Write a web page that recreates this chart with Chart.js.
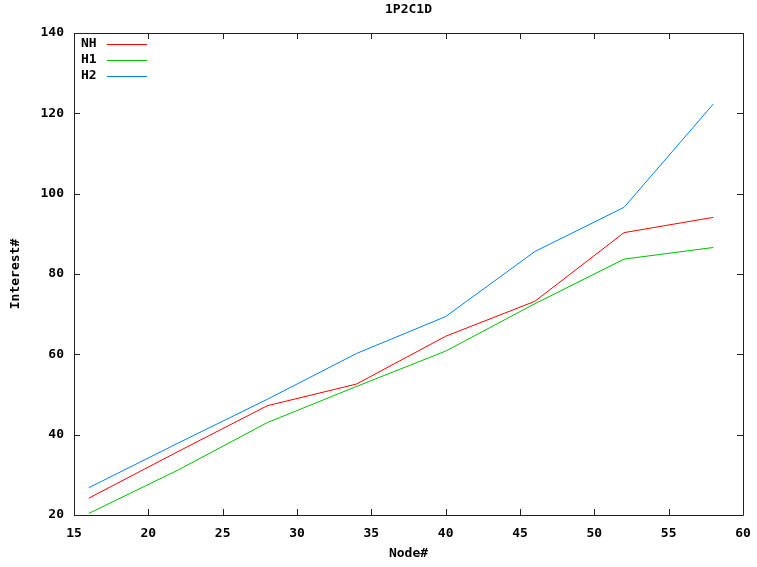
<!DOCTYPE html>
<html>
<head>
<meta charset="utf-8">
<script src="https://cdn.jsdelivr.net/npm/chart.js@4"></script>
<style>
html,body{margin:0;padding:0;background:#fff;}
#wrap{width:757px;height:567px;position:relative;}
</style>
</head>
<body>
<div id="wrap"><canvas id="c" width="757" height="567"></canvas></div>
<script>
const chartTitle = "1P2C1D";
const xTitle = "Node#";
const yTitle = "Interest#";
const nodes = [16, 22, 28, 34, 40, 46, 52, 58];
const seriesNames = ["NH", "H1", "H2"];
const nhValues = [24.2, 35.8, 47.2, 52.6, 64.5, 73.2, 90.3, 94.1];
const h1Values = [20.4, 31.2, 43.0, 52.0, 60.8, 72.6, 83.7, 86.6];
const h2Values = [26.8, 37.9, 48.8, 60.2, 69.4, 85.6, 96.6, 122.3];
const seriesColors = ["#ff0000", "#00c000", "#0080ff"];
const xTicks = [15, 20, 25, 30, 35, 40, 45, 50, 55, 60];
const yTicks = [20, 40, 60, 80, 100, 120, 140];

const FAMILY = "'DejaVu Sans Mono', 'Liberation Mono', monospace";
const FONT = "bold 13px " + FAMILY;

function toPts(vals){ return nodes.map((x,i)=>({x:x, y:vals[i]})); }
const allValues = [nhValues, h1Values, h2Values];

const framePlugin = {
  id: 'frame',
  afterDraw(chart){
    const {ctx, chartArea:a, scales} = chart;
    ctx.save();
    ctx.strokeStyle = '#222';
    ctx.lineWidth = 1;
    ctx.beginPath();
    ctx.rect(Math.round(a.left)+0.5, Math.round(a.top)+0.5, Math.round(a.right-a.left), Math.round(a.bottom-a.top));
    ctx.stroke();
    const tl = 6;
    ctx.beginPath();
    xTicks.forEach(v=>{
      const px = Math.round(scales.x.getPixelForValue(v))+0.5;
      ctx.moveTo(px, a.bottom); ctx.lineTo(px, a.bottom - tl);
      ctx.moveTo(px, a.top); ctx.lineTo(px, a.top + tl);
    });
    yTicks.forEach(v=>{
      const py = Math.round(scales.y.getPixelForValue(v))+0.5;
      ctx.moveTo(a.left, py); ctx.lineTo(a.left + tl, py);
      ctx.moveTo(a.right, py); ctx.lineTo(a.right - tl, py);
    });
    ctx.stroke();
    // titles
    ctx.fillStyle = '#000';
    ctx.font = FONT;
    ctx.textAlign = 'center';
    ctx.textBaseline = 'middle';
    ctx.fillText(chartTitle, (a.left+a.right)/2, 10);
    ctx.fillText(xTitle, (a.left+a.right)/2, 554);
    ctx.save();
    ctx.translate(16, (a.top+a.bottom)/2);
    ctx.rotate(-Math.PI/2);
    ctx.fillText(yTitle, 0, 0);
    ctx.restore();
    // legend
    ctx.textAlign = 'left';
    chart.data.datasets.forEach((ds,i)=>{
      const y = 44 + i*16;
      ctx.fillStyle = '#000';
      ctx.fillText(ds.label, 81, y);
      ctx.strokeStyle = ds.borderColor;
      ctx.beginPath();
      ctx.moveTo(107, Math.round(y)+0.5); ctx.lineTo(147, Math.round(y)+0.5);
      ctx.stroke();
    });
    ctx.restore();
  }
};

new Chart(document.getElementById('c'), {
  type: 'line',
  data: {
    datasets: seriesNames.map((n,i)=>({
      label: n,
      data: toPts(allValues[i]),
      borderColor: seriesColors[i],
      backgroundColor: seriesColors[i],
      borderWidth: 1,
      pointRadius: 0,
      tension: 0,
      fill: false
    }))
  },
  options: {
    responsive: false,
    animation: false,
    devicePixelRatio: 1,
    layout: { padding: { left: 0, right: 14, top: 33, bottom: 0 } },
    plugins: { legend: { display: false }, title: { display: false }, tooltip: { enabled: false } },
    scales: {
      x: {
        type: 'linear', min: 15, max: 60,
        afterBuildTicks(s){ s.ticks = xTicks.map(v=>({value:v})); },
        afterFit(s){ s.height = 52; s.paddingLeft = 0; s.paddingRight = 0; },
        grid: { display: false, drawTicks: false },
        border: { display: false },
        ticks: { color: '#000', font: { family: FAMILY, size: 13, weight: 'bold' }, padding: 11, maxRotation: 0, autoSkip: false }
      },
      y: {
        type: 'linear', min: 20, max: 140,
        afterBuildTicks(s){ s.ticks = yTicks.map(v=>({value:v})); },
        afterFit(s){ s.width = 74; s.paddingTop = 0; s.paddingBottom = 0; },
        grid: { display: false, drawTicks: false },
        border: { display: false },
        ticks: { color: '#000', font: { family: FAMILY, size: 13, weight: 'bold' }, padding: 10, autoSkip: false }
      }
    }
  },
  plugins: [framePlugin]
});
</script>
</body>
</html>
